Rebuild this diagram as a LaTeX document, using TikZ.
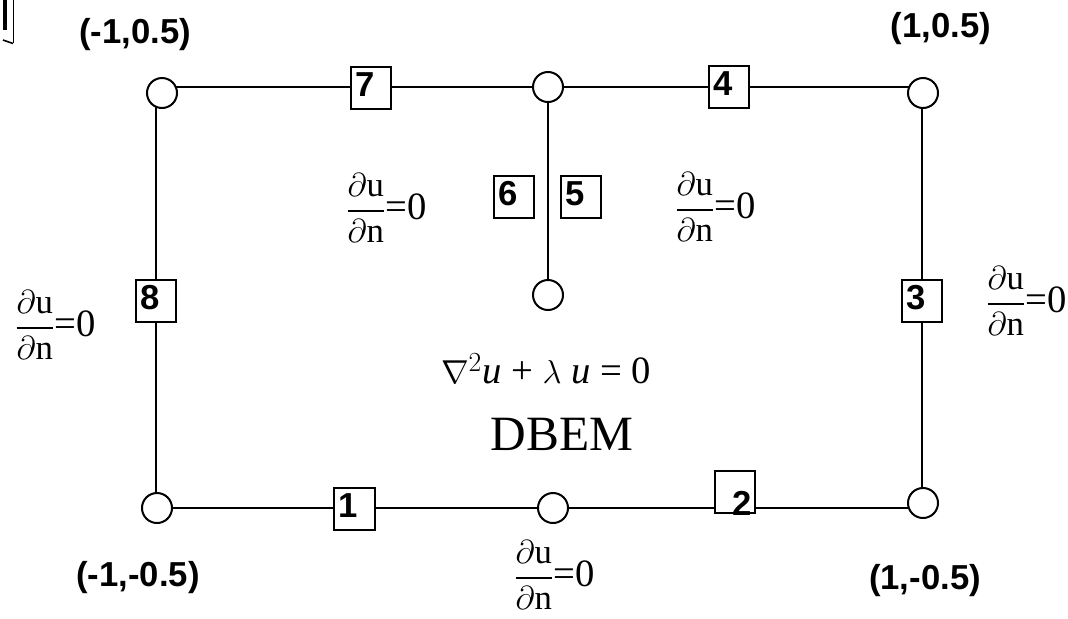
\documentclass[tikz,border=0pt]{standalone}
\usepackage{amsmath}
\usepackage{fontspec}
\setmainfont{Liberation Serif}
\newfontfamily\arialfam{Liberation Sans}
\usetikzlibrary{backgrounds}
\newcommand{\dudn}{$\dfrac{\partial\text{u}}{\partial\text{n}}\text{\fontsize{29}{29}\selectfont =0}$}
\begin{document}
\begin{tikzpicture}[x=0.75pt,y=-0.75pt,line width=1.5pt,
  vtx/.style={circle,draw,fill=white,line width=1.5pt,minimum size=22.5pt,inner sep=0pt},
  elem/.style={draw,fill=white,line width=1.5pt,minimum width=30.5pt,minimum height=31.5pt,inner sep=0pt},
  numlbl/.style={anchor=north west,inner sep=0pt,xshift=3.6pt,yshift=-4.5pt,
    font=\fontsize{26}{26}\selectfont\arialfam\bfseries},
  crd/.style={inner sep=0pt,font=\fontsize{26}{26}\selectfont\arialfam\bfseries},
  bc/.style={inner sep=0pt,anchor=west,font=\fontsize{26}{31}\selectfont},
  edge line/.style={draw=black,line width=1.5pt}]
\useasboundingbox (0,0) rectangle (1068,618);

% corner / junction points of the boundary
\coordinate (TL) at (156,87);
\coordinate (TM) at (548,87);
\coordinate (TR) at (922,87);
\coordinate (IE) at (548,295);
\coordinate (BL) at (156,508);
\coordinate (BR) at (922,508);

% vertices
\node[vtx] (vTL) at (162,93) {};
\node[vtx] (vTM) at (548,87) {};
\node[vtx] (vTR) at (923,93) {};
\node[vtx] (vIE) at (548,295) {};
\node[vtx] (vBL) at (157,508) {};
\node[vtx] (vBM) at (553,508) {};
\node[vtx] (vBR) at (923,503) {};

% elements
\node[elem,label={[numlbl]north west:7}] (e7) at (371,88) {};
\node[elem,label={[numlbl]north west:4}] (e4) at (729,87) {};
\node[elem,label={[numlbl]north west:6}] (e6) at (514,196.5) {};
\node[elem,label={[numlbl]north west:5}] (e5) at (581,196.5) {};
\node[elem,label={[numlbl]north west:8}] (e8) at (156,300.5) {};
\node[elem,label={[numlbl]north west:3}] (e3) at (922,300.5) {};
\node[elem,label={[numlbl]north west:1}] (e1) at (354.5,508.5) {};
\node[elem,label={[numlbl,xshift=9.6pt,yshift=-10.5pt]north west:2}] (e2) at (735,492) {};

% boundary lines
\begin{scope}[on background layer]
\path[edge line] (TL) -- (TM) -- (TR) -- (BR) -- (BL) -- cycle;
\path[edge line] (TM) -- (IE);
\end{scope}

% boundary conditions
\node[bc] (f1) at (345,208) {\dudn};
\node[bc] (f2) at (674,207) {\dudn};
\node[bc] (f3) at (14,325) {\dudn};
\node[bc] (f4) at (985,301) {\dudn};
\node[bc] (f5) at (513,575) {\dudn};

% equation and title
\node (eq) at (546,369) {\fontsize{29}{34}\selectfont $\nabla^{2}$\textit{u} + $\lambda$ \textit{u} = 0};
\node (db) at (562,434) {\fontsize{37}{44}\selectfont DBEM};

% corner coordinates
\node[crd] (l1) at (135,35) {(-1,0.5)};
\node[crd] (l2) at (941,29) {(1,0.5)};
\node[crd] (l3) at (138,578) {(-1,-0.5)};
\node[crd] (l4) at (925,581) {(1,-0.5)};

% stray mark at top left
\draw[line width=2.5pt] (5,0) -- (5,30);
\draw[line width=0.8pt] (13.5,0) -- (13.5,43);
\draw[line width=1.2pt] (3,40) -- (13,43.5);
\end{tikzpicture}
\end{document}
